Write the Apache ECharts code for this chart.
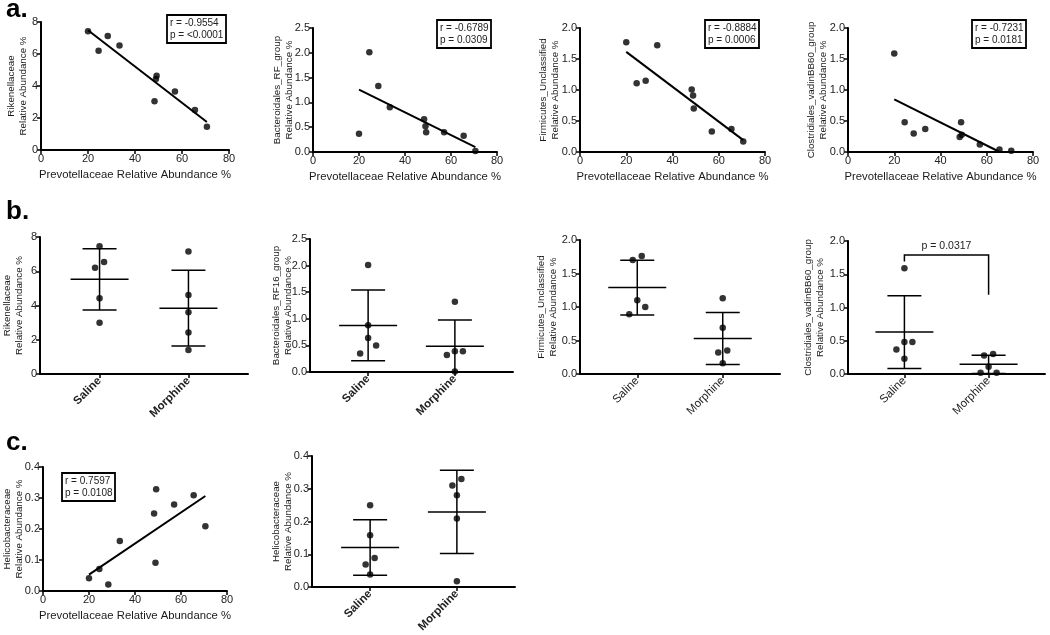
<!DOCTYPE html>
<html>
<head>
<meta charset="utf-8">
<script src="https://cdn.jsdelivr.net/npm/echarts@6/dist/echarts.min.js"></script>
<style>
  html, body { margin: 0; padding: 0; background: #fff; }
  #chart { width: 1050px; height: 635px; }
</style>
</head>
<body>
<div id="chart"></div>
<script>
// x of every correlation plot: Prevotellaceae relative abundance %
const prevotella = [20.0, 24.5, 28.4, 33.4, 48.3, 48.9, 49.2, 57.0, 65.5, 70.6];

// y of the correlation plots (same mouse order as prevotella)
const rikenCorr = [7.42, 6.20, 7.13, 6.53, 3.04, 4.43, 4.64, 3.66, 2.50, 1.45];
const bacteroCorr = [0.37, 2.01, 1.33, 0.90, 0.66, 0.52, 0.40, 0.40, 0.33, 0.02];
const firmiCorr = [1.77, 1.11, 1.15, 1.72, 1.01, 0.91, 0.70, 0.33, 0.37, 0.17];
const clostCorr = [1.59, 0.48, 0.30, 0.37, 0.24, 0.48, 0.28, 0.12, 0.04, 0.02];
const helicoCorr = [0.041, 0.071, 0.021, 0.161, 0.25, 0.091, 0.328, 0.279, 0.309, 0.209];

const corrStats = [
  "r = -0.9554\np = <0.0001",
  "r = -0.6789\np = 0.0309",
  "r = -0.8884\np = 0.0006",
  "r = -0.7231\np = 0.0181",
  "r = 0.7597\np = 0.0108"
];

// group plots
const groups = ["Saline", "Morphine"];
const rikenSaline = [7.46, 6.54, 6.21, 4.43, 2.99];
const rikenMorphine = [7.15, 4.62, 3.61, 2.43, 1.40];
const bacteroSaline = [2.01, 0.88, 0.64, 0.50, 0.35];
const bacteroMorphine = [1.32, 0.39, 0.39, 0.32, 0.01];
const firmiSaline = [1.76, 1.70, 1.10, 1.00, 0.89];
const firmiMorphine = [1.13, 0.69, 0.35, 0.32, 0.16];
const clostSaline = [1.59, 0.48, 0.48, 0.37, 0.23];
const clostMorphine = [0.30, 0.28, 0.11, 0.02, 0.02];
const helicoSaline = [0.25, 0.158, 0.089, 0.069, 0.038];
const helicoMorphine = [0.33, 0.31, 0.28, 0.209, 0.018];
const clostPText = "p = 0.0317";

const FONT = "Liberation Sans, Arial, sans-serif";
const XNAME = "Prevotellaceae Relative Abundance %";
const GX_MIN = 0.33, GX_MAX = 2.67;

const chart = echarts.init(document.getElementById("chart"));

const grids = [], xAxes = [], yAxes = [], series = [];

function axisBase() {
  return {
    axisLine: { lineStyle: { color: "#000", width: 2 } },
    axisTick: { lineStyle: { color: "#000", width: 1.5 }, length: 4 },
    axisLabel: { color: "#222", fontSize: 11, fontFamily: FONT, margin: 3 },
    splitLine: { show: false },
    nameMoveOverlap: false,
    nameTextStyle: { color: "#1a1a1a", fontSize: 11.3, fontFamily: FONT, lineHeight: 13 }
  };
}

function yAxisFor(gi, max, step, name, gap) {
  const digits = step < 1 ? 1 : 0;
  const base = axisBase();
  return Object.assign(base, {
    gridIndex: gi, type: "value", min: 0, max: max, interval: step,
    name: name, nameLocation: "middle", nameGap: gap, nameRotate: 90,
    nameTextStyle: Object.assign(base.nameTextStyle, { fontSize: 9.8, lineHeight: 12.5 }),
    axisLabel: Object.assign(base.axisLabel, {
      formatter: v => v.toFixed(digits)
    })
  });
}

function stdDev(a) {
  const m = a.reduce((s, v) => s + v, 0) / a.length;
  return Math.sqrt(a.reduce((s, v) => s + (v - m) * (v - m), 0) / (a.length - 1));
}
function mean(a) { return a.reduce((s, v) => s + v, 0) / a.length; }

function corrPanel(rect, ys, maxY, step, yname, gap, xname) {
  const gi = grids.length;
  grids.push(rect);
  xAxes.push(Object.assign(axisBase(), {
    gridIndex: gi, type: "value", min: 0, max: 80, interval: 20,
    name: xname, nameLocation: "middle", nameGap: 18
  }));
  yAxes.push(yAxisFor(gi, maxY, step, yname, gap));
  series.push({
    type: "scatter", xAxisIndex: gi, yAxisIndex: gi,
    symbolSize: 6.5, itemStyle: { color: "#000" },
    data: prevotella.map((x, i) => [x, ys[i]]), z: 3
  });
  // least squares line
  const mx = mean(prevotella), my = mean(ys);
  let sxy = 0, sxx = 0;
  prevotella.forEach((x, i) => { sxy += (x - mx) * (ys[i] - my); sxx += (x - mx) * (x - mx); });
  const b = sxy / sxx, a = my - b * mx;
  const x0 = Math.min(...prevotella);
  let x1 = Math.max(...prevotella);
  if (a + b * x1 < 0) x1 = -a / b;
  series.push({
    type: "line", xAxisIndex: gi, yAxisIndex: gi, symbol: "none",
    lineStyle: { color: "#000", width: 2 },
    data: [[x0, a + b * x0], [x1, a + b * x1]], z: 2
  });
}

function swarmOffsets(values, maxY, plotH) {
  const pxPer = plotH / maxY;
  const order = values.map((v, i) => i).sort((p, q) => values[q] - values[p]);
  const off = new Array(values.length).fill(0);
  let cluster = [order[0]];
  const flush = () => {
    const pat = cluster.length === 2 ? [4.5, -4.5] : [0, 8, -8, 16, -16];
    cluster.forEach((idx, k) => { off[idx] = pat[k]; });
  };
  for (let k = 1; k < order.length; k++) {
    const prev = order[k - 1], cur = order[k];
    if ((values[prev] - values[cur]) * pxPer < 8.5) cluster.push(cur);
    else { flush(); cluster = [cur]; }
  }
  flush();
  return off;
}

function errorBarItem(params, api) {
  const x = api.value(0), m = api.value(1), sd = api.value(2);
  const c = api.coord([x, m]);
  const hi = api.coord([x, m + sd]);
  const lo = api.coord([x, Math.max(m - sd, 0)]);
  const style = { stroke: "#000", lineWidth: 1.5 };
  return {
    type: "group", children: [
      { type: "line", shape: { x1: c[0] - 29, y1: c[1], x2: c[0] + 29, y2: c[1] }, style },
      { type: "line", shape: { x1: hi[0] - 17, y1: hi[1], x2: hi[0] + 17, y2: hi[1] }, style },
      { type: "line", shape: { x1: lo[0] - 17, y1: lo[1], x2: lo[0] + 17, y2: lo[1] }, style },
      { type: "line", shape: { x1: c[0], y1: hi[1], x2: c[0], y2: lo[1] }, style }
    ]
  };
}

function groupPanel(rect, sets, maxY, step, yname, gap, bold) {
  const gi = grids.length;
  grids.push(rect);
  const xa = axisBase();
  xAxes.push(Object.assign(xa, {
    gridIndex: gi, type: "value", min: GX_MIN, max: GX_MAX,
    axisTick: Object.assign(xa.axisTick, { customValues: [1, 2] }),
    axisLabel: Object.assign(xa.axisLabel, {
      customValues: [1, 2], rotate: 45, fontWeight: bold ? "bold" : "normal",
      fontSize: 11.5, margin: 5, formatter: v => groups[Math.round(v) - 1] || ""
    })
  }));
  yAxes.push(yAxisFor(gi, maxY, step, yname, gap));
  const unitPerPx = (GX_MAX - GX_MIN) / rect.width;
  const pts = [];
  sets.forEach((vals, g) => {
    const off = swarmOffsets(vals, maxY, rect.height);
    vals.forEach((v, i) => pts.push([g + 1 + off[i] * unitPerPx, v]));
  });
  series.push({
    type: "scatter", xAxisIndex: gi, yAxisIndex: gi,
    symbolSize: 6.5, itemStyle: { color: "#000" }, data: pts, z: 3
  });
  series.push({
    type: "custom", xAxisIndex: gi, yAxisIndex: gi, renderItem: errorBarItem,
    data: sets.map((vals, g) => [g + 1, mean(vals), stdDev(vals)]), z: 2, silent: true
  });
  return gi;
}

// row a
corrPanel({ left: 41, top: 22, width: 188, height: 128 }, rikenCorr, 8, 2,
  "Rikenellaceae\nRelative Abundance %", 11, XNAME);
corrPanel({ left: 313, top: 28, width: 184, height: 124 }, bacteroCorr, 2.5, 0.5,
  "Bacteroidales_RF_group\nRelative Abundance %", 17, XNAME);
corrPanel({ left: 580, top: 28, width: 185, height: 124 }, firmiCorr, 2, 0.5,
  "Firmicutes_Unclassified\nRelative Abundance %", 18, XNAME);
corrPanel({ left: 848, top: 28, width: 185, height: 124 }, clostCorr, 2, 0.5,
  "Clostridiales_vadinBB60_group\nRelative Abundance %", 18, XNAME);

// row b
groupPanel({ left: 40, top: 237, width: 208, height: 137 }, [rikenSaline, rikenMorphine], 8, 2,
  "Rikenellaceae\nRelative Abundance %", 14, true);
groupPanel({ left: 310, top: 239, width: 203, height: 133 }, [bacteroSaline, bacteroMorphine], 2.5, 0.5,
  "Bacteroidales_RF16_group\nRelative Abundance %", 15, true);
groupPanel({ left: 580, top: 240, width: 200, height: 134 }, [firmiSaline, firmiMorphine], 2, 0.5,
  "Firmicutes_Unclassified\nRelative Abundance %", 20, false);
const clostGi = groupPanel({ left: 848, top: 241, width: 197, height: 133 }, [clostSaline, clostMorphine], 2, 0.5,
  "Clostridiales_vadinBB60_group\nRelative Abundance %", 21, false);

// significance bracket on the Clostridiales group plot
series.push({
  type: "custom", xAxisIndex: clostGi, yAxisIndex: clostGi, silent: true,
  data: [[1, 2, Math.max(...clostSaline)]],
  renderItem: (params, api) => {
    const top = api.value(2) + 0.2;
    const l0 = api.coord([api.value(0), top - 0.1]);
    const l1 = api.coord([api.value(0), top]);
    const r1 = api.coord([api.value(1), top]);
    const r0 = api.coord([api.value(1), top - 0.6]);
    return {
      type: "group", children: [
        { type: "polyline", shape: { points: [l0, l1, r1, r0] },
          style: { stroke: "#000", lineWidth: 1.5, fill: null } },
        { type: "text", x: (l1[0] + r1[0]) / 2, y: l1[1] - 3,
          style: { text: clostPText, fill: "#222", font: "10.5px " + FONT,
                   textAlign: "center", textVerticalAlign: "bottom" } }
      ]
    };
  }
});

// row c
corrPanel({ left: 42, top: 467, width: 185, height: 124 }, helicoCorr, 0.4, 0.1,
  "Helicobacteraceae\nRelative Abundance %", 17, XNAME);
groupPanel({ left: 312, top: 456, width: 203, height: 134 }, [helicoSaline, helicoMorphine], 0.4, 0.1,
  "Helicobacteraceae\nRelative Abundance %", 17, true);

const boxPos = [[167, 15], [437, 20], [705, 20], [972, 20], [62, 473]];
const titles = corrStats.map((t, i) => ({
  text: t, left: boxPos[i][0], top: boxPos[i][1],
  borderColor: "#000", borderWidth: 1.8, padding: [2, 3],
  textStyle: { fontSize: 10, fontWeight: "normal", color: "#222", fontFamily: FONT, lineHeight: 12 }
}));
[["a.", 6, -3], ["b.", 6, 199], ["c.", 6, 430]].forEach(([t, l, tp]) => titles.push({
  text: t, left: l, top: tp, padding: 0,
  textStyle: { fontSize: 26, fontWeight: "bold", color: "#000", fontFamily: FONT }
}));

chart.setOption({
  backgroundColor: "#fff",
  animation: false,
  title: titles,
  grid: grids,
  xAxis: xAxes,
  yAxis: yAxes,
  series: series
});
</script>
</body>
</html>
